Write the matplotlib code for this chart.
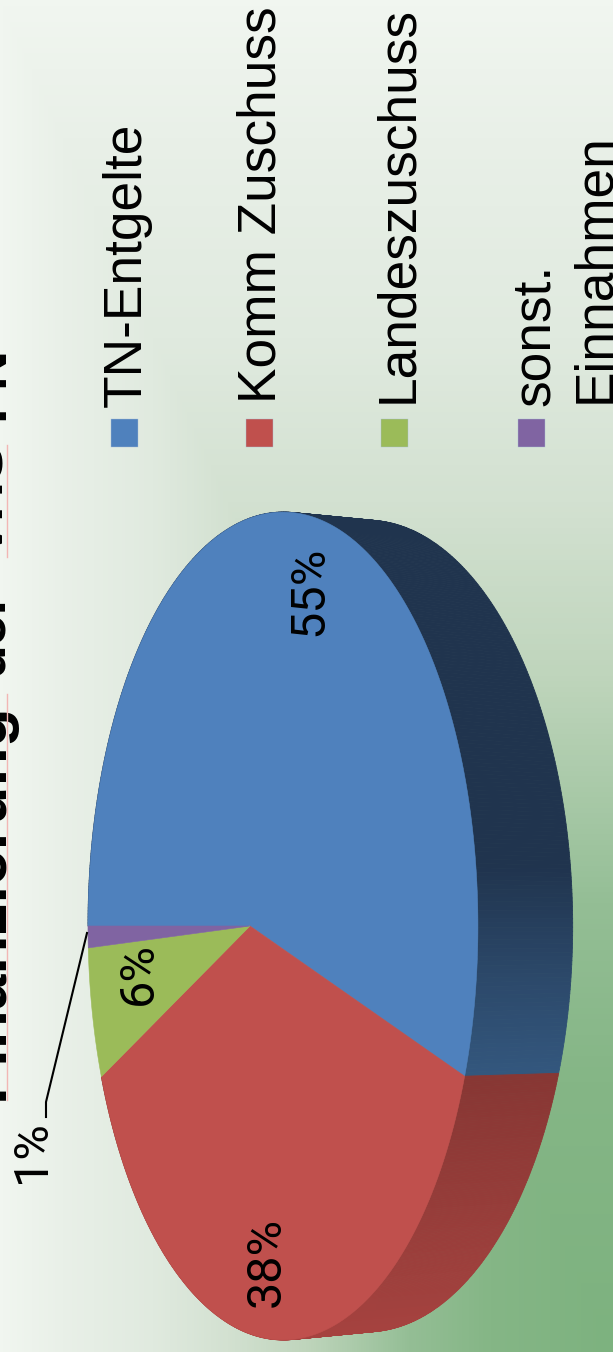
import numpy as np
import matplotlib
matplotlib.use("Agg")
import matplotlib.pyplot as plt
from matplotlib.collections import PolyCollection
from matplotlib.colors import LinearSegmentedColormap
from matplotlib.patches import Polygon, Rectangle

# data
categories = ["TN-Entgelte", "Komm Zuschuss", "Landeszuschuss", "sonst.\nEinnahmen"]
shares = [55, 38, 6, 1]
colors = ["#4f81bd", "#c0504d", "#9bbb59", "#8064a2"]
title_words = ["Finanzierung", "der", "VHS", "FN"]

W, H = 613, 1352

# perspective of the pie (the slide is rotated 90 degrees)
TILT = 0.169
TOP = dict(x0=250.0, y0=926.0, a=189.4, c=408.0)
BOTTOM = dict(x0=332.0, y0=926.0, a=200.0, c=400.0)


def project(theta, disc):
    d, w = np.cos(theta), np.sin(theta)
    k = 1 - TILT * d
    return disc["x0"] + disc["a"] * d / k, disc["y0"] + disc["c"] * w / k


fig = plt.figure(figsize=(W / 100, H / 100), dpi=100)
ax = fig.add_axes([0, 0, 1, 1])
ax.set_xlim(0, W)
ax.set_ylim(H, 0)
ax.axis("off")

# background: rectangular gradient towards the lower right corner
bg_cmap = LinearSegmentedColormap.from_list("bg", [
    (0.00, "#f1f6f0"), (0.10, "#e9f0e8"), (0.25, "#e0eadf"), (0.37, "#d3e1d1"), (0.50, "#bfd5bc"),
    (0.67, "#94be95"), (0.80, "#85b686"), (1.00, "#7db27f"),
])
xx, yy = np.meshgrid(np.linspace(0, 1, W), np.linspace(0, 1, H))
ax.imshow(np.minimum(xx, yy), cmap=bg_cmap, vmin=0, vmax=1,
          extent=(0, W, H, 0), aspect="auto", zorder=0)

# slice angles, starting on the far side of the pie
edges = np.pi + 2 * np.pi * np.cumsum([0] + shares) / sum(shares)

# side wall, shaded by height on the page
wall_cmaps = [
    LinearSegmentedColormap.from_list("w0", [(0, "#20344e"), (0.62, "#20344e"), (0.8, "#2b4768"), (1, "#34587f")]),
    LinearSegmentedColormap.from_list("w1", [(0, "#883734"), (1, "#a5423f")]),
]
for i in range(2):
    th = np.linspace(edges[i], edges[i + 1], 400)
    tx, ty = project(th, TOP)
    bx, by = project(th, BOTTOM)
    quads = [[(tx[j], ty[j]), (tx[j + 1], ty[j + 1]), (bx[j + 1], by[j + 1]), (bx[j], by[j])]
             for j in range(len(th) - 1)]
    if i == 0:
        tone = (ty[:-1] + by[:-1]) / 2 / 1080
        tone = np.clip((tone - 0.48) / 0.52, 0, 1)
    else:
        tone = np.clip(((ty[:-1] + by[:-1]) / 2 - 1080) / 250, 0, 1)
    face = wall_cmaps[i](tone)
    ax.add_collection(PolyCollection(quads, facecolors=face, edgecolors=face, linewidths=0.6, zorder=2))

# top face
for i, color in enumerate(colors):
    th = np.linspace(edges[i], edges[i + 1], 300)
    x, y = project(th, TOP)
    pts = np.column_stack([np.r_[TOP["x0"], x], np.r_[TOP["y0"], y]])
    ax.add_patch(Polygon(pts, closed=True, facecolor=color, edgecolor=color, linewidth=0.4, zorder=3))

# percent labels
label_pos = [(322, 636), (280, 1307), (152, 1005), (45, 1183)]
for share, (lx, ly) in zip(shares, label_pos):
    ax.text(lx, ly, f"{share}%", rotation=90, rotation_mode="anchor", ha="left", va="baseline",
            family="Roboto", fontsize=35, color="black", zorder=5)
ax.plot([87, 46, 46], [933, 1102, 1117], color="black", linewidth=1.5, zorder=4)

# legend
legend_x = [111, 246, 381, 518]
legend_base = [141, 276, 412, 549]
legend_start = [407, 403, 403, 406]
for name, color, sx, bx_, sy in zip(categories, colors, legend_x, legend_base, legend_start):
    ax.add_patch(Rectangle((sx, 419), 27, 28, facecolor=color, edgecolor="#a9bfd6", linewidth=0.3, zorder=3))
    lines = name.split("\n")
    ax.text(bx_, sy, lines[0], rotation=90, rotation_mode="anchor", ha="left", va="baseline",
            family="Liberation Sans", fontsize=38.3, color="black", zorder=5)
    if len(lines) > 1:
        ax.text(bx_ + 60, sy - 3, lines[1], rotation=90, rotation_mode="anchor", ha="left", va="baseline",
                family="Liberation Sans", fontsize=38.3, color="black", zorder=5)

# title, cut off by the left edge of the picture
title_y = [1100, 676, 557, 420]
for word, ty_ in zip(title_words, title_y):
    ax.text(3, ty_, word, rotation=90, rotation_mode="anchor", ha="left", va="baseline",
            family="Liberation Sans", weight="bold", fontsize=46 if word == "Finanzierung" else 40,
            color="black", zorder=5)
for y0, y1 in [(694, 1100), (445, 557)]:
    ax.plot([7, 7], [y0, y1], color="#f2b6b4", linewidth=1.0, zorder=6)

fig.savefig("out.png", dpi=100)
